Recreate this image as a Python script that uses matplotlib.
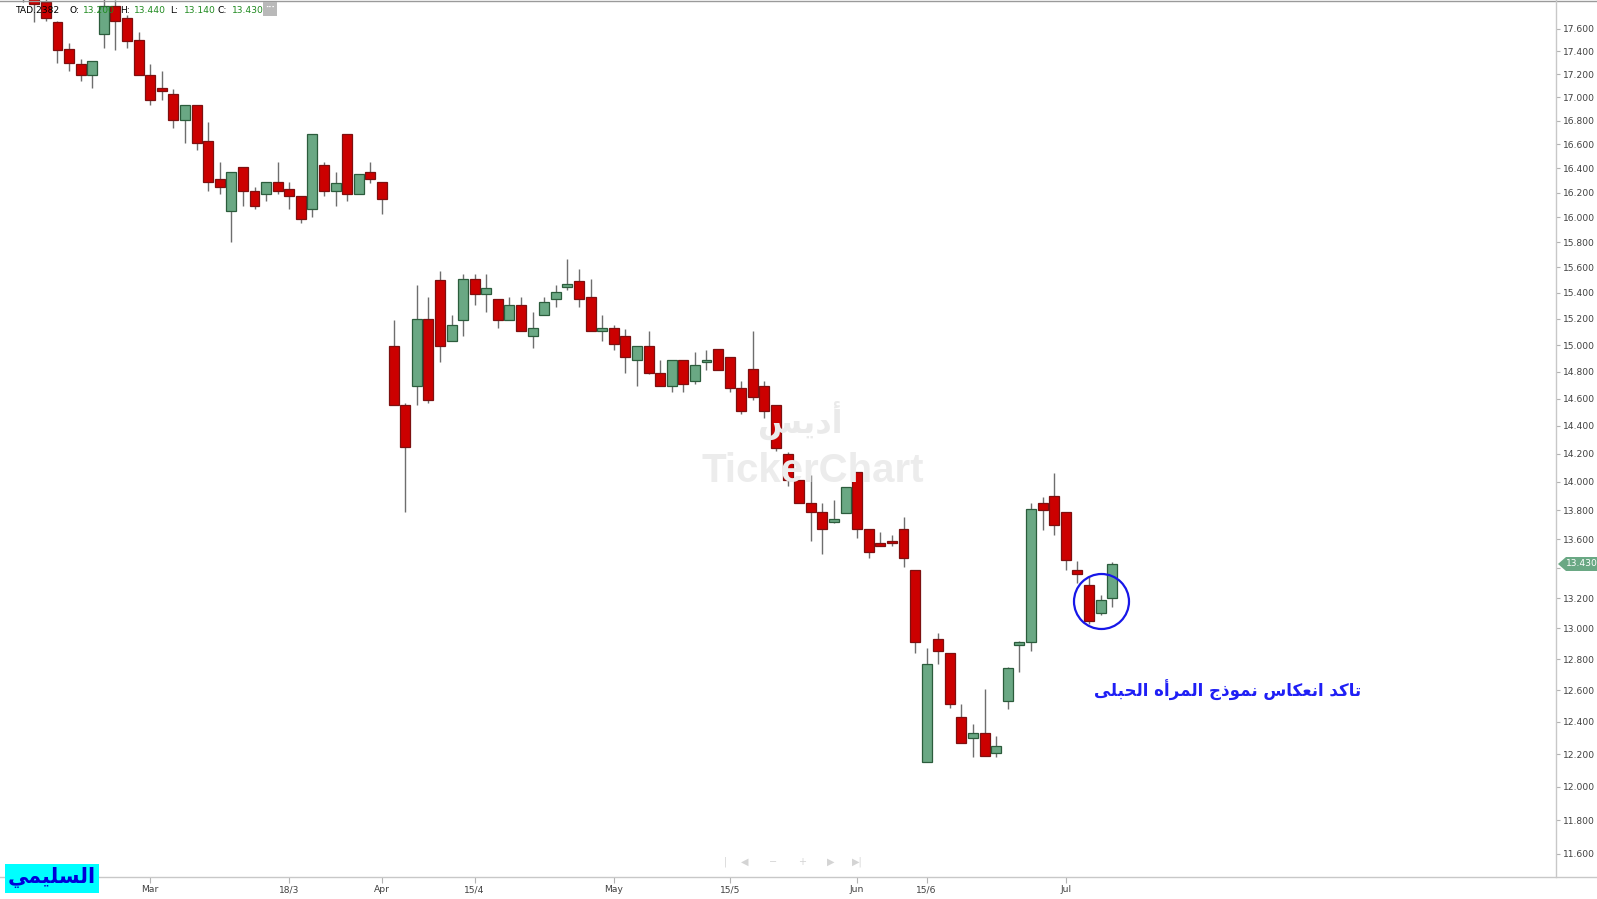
import numpy as np
import matplotlib
matplotlib.use("Agg")
import matplotlib.pyplot as plt
from matplotlib.patches import Rectangle, Polygon
from matplotlib.lines import Line2D
from matplotlib.ticker import FixedLocator, NullLocator, FixedFormatter

# ---------------- data ----------------
opens = [18.05, 17.92, 17.84, 17.66, 17.42, 17.29, 17.19, 17.55, 17.80, 17.69,
         17.50, 17.19, 17.08, 17.03, 16.81, 16.93, 16.63, 16.31, 16.05, 16.41,
         16.21, 16.19, 16.29, 16.23, 16.17, 16.07, 16.43, 16.21, 16.69, 16.19,
         16.37, 16.29, 14.99, 14.55, 14.69, 15.20, 15.50, 15.03, 15.19, 15.51,
         15.39, 15.35, 15.19, 15.31, 15.07, 15.23, 15.35, 15.45, 15.49, 15.37,
         15.11, 15.13, 15.07, 14.89, 14.99, 14.79, 14.69, 14.89, 14.73, 14.87,
         14.97, 14.91, 14.68, 14.82, 14.69, 14.55, 14.20, 14.01, 13.85, 13.79,
         13.72, 13.78, 14.07, 13.67, 13.57, 13.59, 13.67, 13.39, 12.15, 12.93,
         12.84, 12.43, 12.30, 12.33, 12.21, 12.53, 12.89, 12.91, 13.85, 13.90,
         13.79, 13.39, 13.29, 13.10, 13.20]
highs = [18.15, 17.98, 17.87, 17.67, 17.47, 17.33, 17.31, 17.88, 17.86, 17.72,
         17.57, 17.29, 17.23, 17.07, 16.93, 16.93, 16.79, 16.45, 16.37, 16.41,
         16.25, 16.29, 16.45, 16.29, 16.17, 16.69, 16.45, 16.37, 16.69, 16.35,
         16.45, 16.29, 15.19, 14.57, 15.46, 15.37, 15.57, 15.23, 15.55, 15.55,
         15.55, 15.35, 15.37, 15.37, 15.25, 15.37, 15.46, 15.67, 15.59, 15.51,
         15.23, 15.15, 15.12, 14.99, 15.11, 14.89, 14.89, 14.89, 14.95, 14.96,
         14.97, 14.91, 14.73, 15.11, 14.73, 14.55, 14.21, 14.01, 14.05, 13.85,
         13.87, 13.96, 14.07, 13.67, 13.65, 13.63, 13.75, 13.39, 12.87, 12.97,
         12.84, 12.51, 12.39, 12.61, 12.31, 12.75, 12.92, 13.85, 13.89, 14.06,
         13.79, 13.45, 13.35, 13.22, 13.44]
lows = [17.84, 17.66, 17.67, 17.30, 17.23, 17.14, 17.08, 17.43, 17.41, 17.43,
        17.19, 16.93, 16.98, 16.74, 16.61, 16.55, 16.21, 16.19, 15.80, 16.09,
        16.07, 16.13, 16.19, 16.07, 15.95, 16.00, 16.17, 16.09, 16.13, 16.19,
        16.28, 16.03, 14.55, 13.79, 14.55, 14.57, 14.87, 15.03, 15.07, 15.31,
        15.25, 15.13, 15.19, 15.11, 14.98, 15.23, 15.29, 15.42, 15.29, 15.11,
        15.03, 14.96, 14.79, 14.69, 14.78, 14.69, 14.65, 14.65, 14.71, 14.81,
        14.81, 14.65, 14.49, 14.59, 14.46, 14.22, 13.97, 13.85, 13.59, 13.50,
        13.71, 13.78, 13.61, 13.47, 13.55, 13.55, 13.41, 12.84, 12.15, 12.77,
        12.49, 12.27, 12.18, 12.19, 12.18, 12.48, 12.72, 12.85, 13.66, 13.63,
        13.39, 13.30, 13.03, 13.09, 13.14]
closes = [17.90, 17.82, 17.69, 17.41, 17.30, 17.19, 17.31, 17.80, 17.67, 17.49,
          17.19, 16.98, 17.05, 16.81, 16.93, 16.61, 16.29, 16.25, 16.37, 16.21,
          16.09, 16.29, 16.21, 16.17, 15.99, 16.69, 16.21, 16.28, 16.19, 16.35,
          16.31, 16.15, 14.55, 14.25, 15.20, 14.59, 14.99, 15.15, 15.51, 15.39,
          15.44, 15.19, 15.31, 15.11, 15.13, 15.33, 15.41, 15.47, 15.35, 15.11,
          15.13, 15.01, 14.91, 14.99, 14.79, 14.69, 14.89, 14.71, 14.85, 14.89,
          14.81, 14.68, 14.51, 14.61, 14.51, 14.24, 14.01, 13.85, 13.79, 13.67,
          13.74, 13.96, 13.67, 13.51, 13.55, 13.57, 13.47, 12.91, 12.77, 12.85,
          12.51, 12.27, 12.33, 12.19, 12.25, 12.74, 12.91, 13.81, 13.80, 13.70,
          13.46, 13.36, 13.05, 13.19, 13.43]

date_tick_pos = [11, 23, 31, 39, 51, 61, 72, 78, 90]
date_tick_labels = ["Mar", "18/3", "Apr", "15/4", "May", "15/5", "Jun", "15/6", "Jul"]
price_ticks = [11.6, 11.8, 12.0, 12.2, 12.4, 12.6, 12.8, 13.0, 13.2, 13.4, 13.6,
               13.8, 14.0, 14.2, 14.4, 14.6, 14.8, 15.0, 15.2, 15.4, 15.6, 15.8,
               16.0, 16.2, 16.4, 16.6, 16.8, 17.0, 17.2, 17.4, 17.6]
symbol = "TAD.2382"
note_text = "تاكد انعكاس نموذج المرأه الحبلى"
author_text = "السليمي"
brand_ar = "أديس"
brand_en = "TickerChart"

# ---------------- Arabic shaping (presentation forms, visual order) ----------------
AR_FORMS = {
    '\u0627': ('\uFE8D', '\uFE8E', None, None),
    '\u0623': ('\uFE83', '\uFE84', None, None),
    '\u0628': ('\uFE8F', '\uFE90', '\uFE91', '\uFE92'),
    '\u062A': ('\uFE95', '\uFE96', '\uFE97', '\uFE98'),
    '\u062C': ('\uFE9D', '\uFE9E', '\uFE9F', '\uFEA0'),
    '\u062D': ('\uFEA1', '\uFEA2', '\uFEA3', '\uFEA4'),
    '\u062F': ('\uFEA9', '\uFEAA', None, None),
    '\u0630': ('\uFEAB', '\uFEAC', None, None),
    '\u0631': ('\uFEAD', '\uFEAE', None, None),
    '\u0633': ('\uFEB1', '\uFEB2', '\uFEB3', '\uFEB4'),
    '\u0639': ('\uFEC9', '\uFECA', '\uFECB', '\uFECC'),
    '\u0643': ('\uFED9', '\uFEDA', '\uFEDB', '\uFEDC'),
    '\u0644': ('\uFEDD', '\uFEDE', '\uFEDF', '\uFEE0'),
    '\u0645': ('\uFEE1', '\uFEE2', '\uFEE3', '\uFEE4'),
    '\u0646': ('\uFEE5', '\uFEE6', '\uFEE7', '\uFEE8'),
    '\u0647': ('\uFEE9', '\uFEEA', '\uFEEB', '\uFEEC'),
    '\u0648': ('\uFEED', '\uFEEE', None, None),
    '\u0649': ('\uFEEF', '\uFEF0', None, None),
    '\u064A': ('\uFEF1', '\uFEF2', '\uFEF3', '\uFEF4'),
}


def shape_ar(s):
    chars = list(s)
    out = []
    for i, ch in enumerate(chars):
        f = AR_FORMS.get(ch)
        if f is None:
            out.append(ch)
            continue
        prev = chars[i - 1] if i > 0 else None
        nxt = chars[i + 1] if i + 1 < len(chars) else None
        jp = prev in AR_FORMS and AR_FORMS[prev][2] is not None
        jn = nxt in AR_FORMS and f[2] is not None
        if jp and jn:
            out.append(f[3])
        elif jp:
            out.append(f[1])
        elif jn:
            out.append(f[2])
        else:
            out.append(f[0])
    return ''.join(reversed(out))


# ---------------- figure ----------------
W, H = 1597, 899
fig = plt.figure(figsize=(W / 100, H / 100), dpi=100)
fig.patch.set_facecolor("white")


def fx(x):
    return x / W


def fy(y):
    return 1 - y / H


AX_RIGHT = 1556
AX_BOTTOM = 877
ax = fig.add_axes([0, (H - AX_BOTTOM) / H, AX_RIGHT / W, AX_BOTTOM / H])
ax.set_facecolor("white")

o = np.array(opens)
h = np.array(highs)
l = np.array(lows)
c = np.array(closes)
x = np.arange(len(o))
up = c >= o

RED = "#cc0000"
RED_EDGE = "#7d1010"
GREEN = "#6aa884"
GREEN_EDGE = "#2b5c3c"
WICK = "#6e6e6e"

ax.vlines(x, l, h, color=WICK, linewidth=1.0, zorder=2)
bottoms = np.minimum(o, c)
heights = np.abs(c - o)
ax.bar(x[~up], heights[~up], bottom=bottoms[~up], width=0.86, color=RED,
       edgecolor=RED_EDGE, linewidth=0.9, zorder=3)
ax.bar(x[up], heights[up], bottom=bottoms[up], width=0.86, color=GREEN,
       edgecolor=GREEN_EDGE, linewidth=0.9, zorder=3)

ax.set_yscale("log")
ax.set_ylim(11.466, 17.856)
ax.set_xlim(-1.96, 132.3)

last = closes[-1]
# the last-price tag hides the axis label lying under it
ytick_labels = ["" if abs(v - last) < 0.05 else "%.3f" % v for v in price_ticks]

ax.yaxis.tick_right()
ax.yaxis.set_major_locator(FixedLocator(price_ticks))
ax.yaxis.set_minor_locator(NullLocator())
ax.yaxis.set_major_formatter(FixedFormatter(ytick_labels))
ax.xaxis.set_major_locator(FixedLocator(date_tick_pos))
ax.xaxis.set_minor_locator(NullLocator())
ax.xaxis.set_major_formatter(FixedFormatter(date_tick_labels))

ax.tick_params(axis="y", which="both", length=3, width=0.8, color="#b4b4b4",
               pad=2, labelsize=6.6, labelcolor="#404040", right=True, left=False)
ax.tick_params(axis="x", which="both", length=4, width=0.8, color="#b4b4b4",
               pad=2, labelsize=6.6, labelcolor="#404040")
for s in ax.spines.values():
    s.set_visible(False)

# frame lines
fig.add_artist(Line2D([0, 1], [fy(0.5), fy(0.5)], transform=fig.transFigure,
                      color="#9a9a9a", linewidth=1.0))
fig.add_artist(Line2D([0, 1], [fy(AX_BOTTOM), fy(AX_BOTTOM)], transform=fig.transFigure,
                      color="#c8c8c8", linewidth=1.0))
fig.add_artist(Line2D([fx(AX_RIGHT), fx(AX_RIGHT)], [fy(0), fy(AX_BOTTOM)],
                      transform=fig.transFigure, color="#c8c8c8", linewidth=1.0))

# watermark
fig.text(fx(800), fy(421), shape_ar(brand_ar), ha="center", va="center",
         fontsize=23, fontweight="bold", color="#eaeaea", family="DejaVu Sans", zorder=0)
fig.text(fx(702), fy(471), brand_en, ha="left", va="center", fontsize=29,
         fontweight="bold", color="#ececec", family="Liberation Sans", zorder=0)
fig.add_artist(Rectangle((fx(674), fy(483)), (699 - 674) / W, (483 - 458) / H,
                         transform=fig.transFigure, facecolor="#fdf7e4",
                         edgecolor="#e6e6e6", linewidth=1.5, zorder=0))
fig.add_artist(Line2D([fx(677), fx(683), fx(688), fx(692), fx(697)],
                      [fy(480), fy(473), fy(475), fy(466), fy(461)],
                      transform=fig.transFigure, color="#f0e2b8", linewidth=1.2, zorder=0))

# last price tag
ty = 564
fig.add_artist(Polygon([(fx(1558), fy(ty)), (fx(1566), fy(ty - 7)), (fx(1597), fy(ty - 7)),
                        (fx(1597), fy(ty + 7)), (fx(1566), fy(ty + 7))],
                       closed=True, transform=fig.transFigure, facecolor=GREEN,
                       edgecolor="none", zorder=5))
fig.text(fx(1566), fy(ty), "%.3f" % last, ha="left", va="center", fontsize=6.6,
         color="white", zorder=6)

# header
hdr_y = fy(10.5)
green_txt = "#1f8a1f"
fig.text(fx(16), hdr_y, symbol, ha="left", va="center", fontsize=6.6, color="black", zorder=6)
hdr = [("O:", 69, opens[-1]), ("H:", 120, highs[-1]), ("L:", 170, lows[-1]), ("C:", 218, closes[-1])]
for lab, px, val in hdr:
    fig.text(fx(px), hdr_y, lab, ha="left", va="center", fontsize=6.6, color="black", zorder=6)
    fig.text(fx(px + 14), hdr_y, "%.3f" % val, ha="left", va="center", fontsize=6.6,
             color=green_txt, zorder=6)
fig.add_artist(Rectangle((fx(263), fy(16)), 14 / W, 14 / H, transform=fig.transFigure,
                         facecolor="#b9b9b9", edgecolor="none", zorder=6))
fig.text(fx(270), fy(8), "···", ha="center", va="center", fontsize=6, fontweight="bold",
         color="white", zorder=7)

# pattern annotation
ax.plot([93.0], [13.18], marker="o", markersize=39.6, markerfacecolor="none",
        markeredgecolor="#1717e8", markeredgewidth=1.6, zorder=6)
fig.text(fx(1228), fy(690), shape_ar(note_text), ha="center", va="center", fontsize=12.0,
         fontweight="bold", color="#1f1ff5", family="DejaVu Sans", zorder=7)

# author label
fig.add_artist(Rectangle((fx(5), fy(893)), 94 / W, 29 / H, transform=fig.transFigure,
                         facecolor="#00ffff", edgecolor="none", zorder=6))
fig.text(fx(52), fy(878), shape_ar(author_text), ha="center", va="center", fontsize=15,
         fontweight="bold", color="#0000d8", family="DejaVu Sans", zorder=7)

# navigation icons
nav = [("|", 725), ("◀", 745), ("−", 773), ("+", 802), ("▶", 831), ("▶|", 857)]
for sym, px in nav:
    fig.text(fx(px), fy(862), sym, ha="center", va="center", fontsize=7,
             color="#d4d4d4", zorder=6)

fig.savefig("out.png", dpi=100, facecolor="white")
